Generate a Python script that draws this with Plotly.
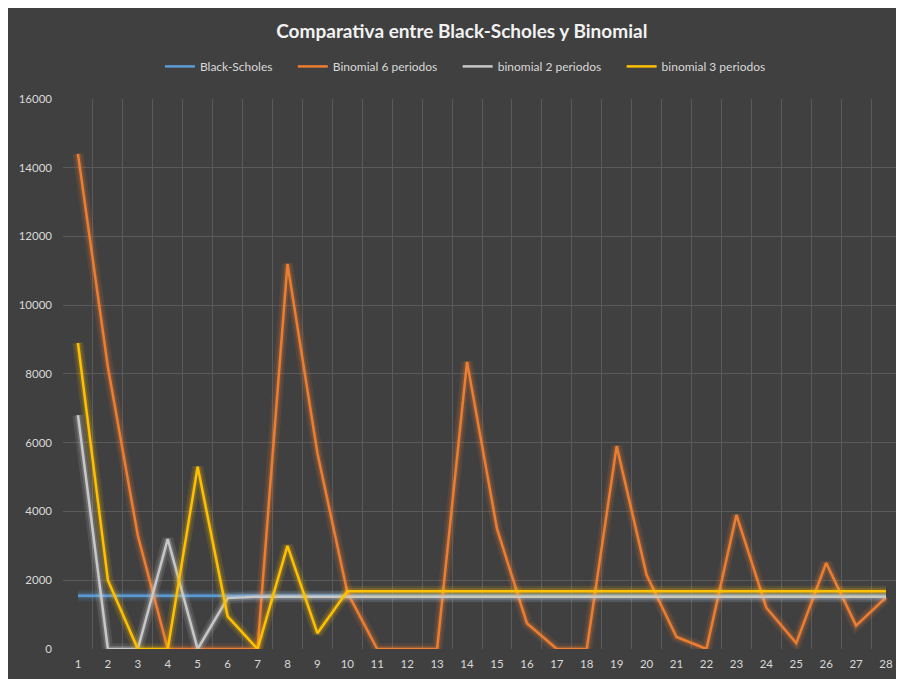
import plotly.graph_objects as go

periods = list(range(1, 29))
tick_labels = [str(p) for p in periods]

black_scholes = [1550] * 28
binomial_6 = [14400, 8200, 3300, 0, 0, 0, 0, 11200, 5700, 1650,
              0, 0, 0, 8350, 3500, 750, 0, 0, 5900, 2150,
              350, 0, 3900, 1200, 170, 2500, 680, 1500]
binomial_2 = [6800, 0, 0, 3200, 0, 1480] + [1520] * 22
binomial_3 = [8900, 2000, 0, 0, 5300, 950, 0, 3000, 460] + [1680] * 19

pad = "\u00a0" * 5
series = [
    ("Black-Scholes", black_scholes, "#5b9bd5", "rgba(91,155,213,{a})", pad),
    ("Binomial 6 periodos", binomial_6, "#ed7d31", "rgba(237,125,49,{a})", pad),
    ("binomial 2 periodos", binomial_2, "#c8c8c8", "rgba(210,210,210,{a})", pad),
    ("binomial 3 periodos", binomial_3, "#ffc000", "rgba(255,192,0,{a})", ""),
]

fig = go.Figure()
for name, vals, color, glow, p in series:
    for w, a in [(11, 0.12), (6, 0.22)]:
        fig.add_trace(go.Scatter(x=periods, y=vals, mode="lines",
                                 line=dict(color=glow.format(a=a), width=w),
                                 showlegend=False, hoverinfo="skip"))
    fig.add_trace(go.Scatter(x=periods, y=vals, mode="lines", name=name + p,
                             line=dict(color=color, width=2.5)))

bg = "#404040"
grid = "#5a5a5a"
txt = "#d9d9d9"

fig.update_layout(
    width=904, height=679,
    paper_bgcolor=bg, plot_bgcolor=bg,
    margin=dict(l=54, r=11, t=82, b=38),
    font=dict(family="Lato", color=txt, size=12),
    title=dict(text="<b>Comparativa entre Black-Scholes y Binomial</b>",
               xref="container", x=0.502, xanchor="center",
               yref="container", y=0.965, yanchor="middle",
               font=dict(size=19, color="#f2f2f2", family="Lato")),
    legend=dict(orientation="h", xref="container", x=0.506, xanchor="center",
                yref="container", y=0.914, yanchor="middle",
                font=dict(size=12, color=txt), bgcolor="rgba(0,0,0,0)",
                itemwidth=30, tracegroupgap=0),
    xaxis=dict(range=[0.5, 28.5], tickmode="array", tickvals=periods,
               ticktext=tick_labels, showgrid=False, zeroline=False,
               showline=False, ticks="", tickfont=dict(size=11.5, color=txt),
               ticklabelstandoff=6,
               minor=dict(tickmode="array",
                          tickvals=[p + 0.5 for p in range(0, 29)],
                          showgrid=True, gridcolor=grid, gridwidth=1, ticks="")),
    yaxis=dict(range=[0, 16000], dtick=2000, tickformat="d", showgrid=True,
               gridcolor=grid, gridwidth=1, zeroline=False, showline=False,
               ticks="", tickfont=dict(size=11.5, color=txt),
               ticklabelstandoff=10),
)

fig.write_html("out.html", post_script="document.body.style.overflow='hidden';")
